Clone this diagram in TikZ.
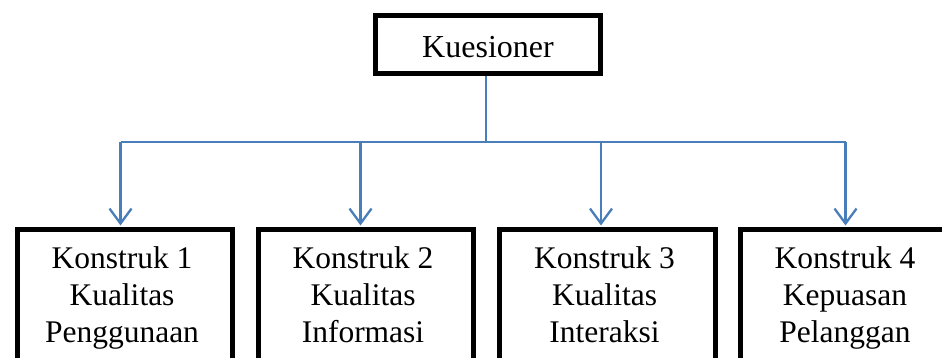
\documentclass[tikz,border=0pt]{standalone}
\usepackage{fontspec}
\setmainfont{Liberation Serif}
\usetikzlibrary{arrows.meta}
\definecolor{conn}{HTML}{4A7EBB}
\tikzset{
  boxframe/.style={draw=black, line width=5pt, fill=white, inner sep=0pt},
  boxtext/.style={align=center, font=\fontsize{31.5}{37}\selectfont, inner sep=0pt, anchor=base},
  link/.style={draw=conn, line width=2.3pt},
  arrowlink/.style={link, -{Straight Barb[length=15pt,width=22pt,line width=2.3pt]}, shorten >=1pt},
}
\begin{document}
\begin{tikzpicture}[x=1pt,y=-1pt]
\useasboundingbox (0,0) rectangle (942,358);
\clip (0,0) rectangle (942,358);
\fill[white] (0,0) rectangle (942,358);
% top box
\node[boxframe, minimum width=225pt, minimum height=58pt, text height=27pt, text depth=0pt,
      font=\fontsize{32}{38}\selectfont] (top) at (488,44.5) {Kuesioner};
% bottom boxes
\node[boxframe, minimum width=215pt, minimum height=200pt, anchor=north west] (box1) at (14.5,226.5) {};
\node[boxframe, minimum width=215pt, minimum height=200pt, anchor=north west] (box2) at (255.5,226.5) {};
\node[boxframe, minimum width=216pt, minimum height=200pt, anchor=north west] (box3) at (496.5,226.5) {};
\node[boxframe, minimum width=215pt, minimum height=200pt, anchor=north west] (box4) at (737.5,226.5) {};
\node[boxtext] (t1) at (122,342) {Konstruk 1\\Kualitas\\Penggunaan};
\node[boxtext] (t2) at (363,342) {Konstruk 2\\Kualitas\\Informasi};
\node[boxtext] (t3) at (604.5,342) {Konstruk 3\\Kualitas\\Interaksi};
\node[boxtext] (t4) at (845,342) {Konstruk 4\\Kepuasan\\Pelanggan};
% connectors
\coordinate (j) at ([xshift=-2pt]top.south |- 0,142);
\draw[link] ([xshift=-2pt]top.south) -- (j);
\coordinate (l) at ([xshift=-4pt]box1.north |- j);
\coordinate (r) at ([xshift=-2pt]box4.north |- j);
\draw[link] (l) -- (r);
\draw[arrowlink] (l) -- ([xshift=-4pt]box1.north);
\draw[arrowlink] ([xshift=-5pt]box2.north |- j) -- ([xshift=-5pt]box2.north);
\draw[arrowlink] ([xshift=-6pt]box3.north |- j) -- ([xshift=-6pt]box3.north);
\draw[arrowlink] (r) -- ([xshift=-2pt]box4.north);
\end{tikzpicture}
\end{document}
